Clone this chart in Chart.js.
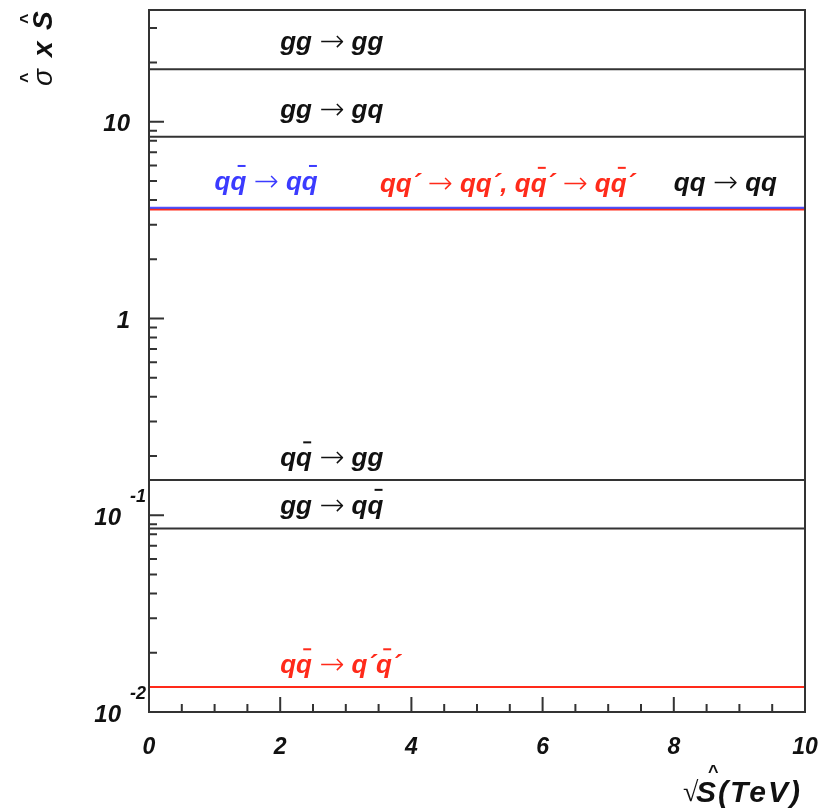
<!DOCTYPE html>
<html>
<head>
<meta charset="utf-8">
<script src="https://cdn.jsdelivr.net/npm/chart.js@4.4.0/dist/chart.umd.min.js"></script>
<style>
    html, body { margin: 0; padding: 0; background: #fff; }
    #wrap { width: 819px; height: 811px; position: relative; }
</style>
</head>
<body>
<div id="wrap"><canvas id="sigmaChart"></canvas></div>
<script>
// Data
const sqrtS = [0, 10];   // TeV, range of each curve
const processNames = [
    'gg → gg',
    'gg → gq',
    'qq̄ → qq̄',
    'qq´ → qq´, qq̄´ → qq̄´',
    'qq → qq',
    'qq̄ → gg',
    'gg → qq̄',
    'qq̄ → q´q̄´'
];
const processValues = [18.5, 8.4, 3.66, 3.58, 3.62, 0.151, 0.0856, 0.0134];
const yMajorTicks = [0.01, 0.1, 1, 10];
const xMajorTicks = [0, 2, 4, 6, 8, 10];

// Styles
const lineColors = ['#333', '#333', '#5050ff', '#ff2a1a', '#333', '#333', '#333', '#ff2a1a'];
const textColors = ['#111', '#111', '#3b3bff', '#ff2a1a', '#111', '#111', '#111', '#ff2a1a'];
const drawOrder = [1, 1, 1, 2, 3, 1, 1, 1];
// label start (x in TeV) and baseline offset above its line (px)
const labelAt = [
    { x: 2.0, dy: 19 },
    { x: 2.0, dy: 19 },
    { x: 1.0, dy: 18 },
    { x: 3.52, dy: 18 },
    { x: 8.0, dy: 18 },
    { x: 2.0, dy: 14 },
    { x: 2.0, dy: 15 },
    { x: 2.0, dy: 14 }
];

const FONT = '"Liberation Sans", Arial, sans-serif';
const AXIS = '#333';

// Draws text with overbars (combining macron) and thin arrows
function drawRich(ctx, text, x, y, color, size) {
    const boldFont = `italic bold ${size}px ${FONT}`;
    const arrowFont = `200 ${size + 4}px "DejaVu Sans"`;
    ctx.fillStyle = color;
    ctx.textAlign = 'left';
    ctx.textBaseline = 'alphabetic';
    let cx = x;
    let lastX = x, lastW = 0;
    Array.from(text).forEach(ch => {
        if (ch === '\u0304') {
            ctx.fillRect(lastX + lastW * 0.45, y - size * 0.95, lastW * 0.5, 2);
            return;
        }
        ctx.font = ch === '→' ? arrowFont : boldFont;
        const w = ctx.measureText(ch).width;
        ctx.fillText(ch, cx, ch === '→' ? y + 1 : y);
        lastX = cx;
        lastW = w;
        cx += w;
    });
}

const axesPlugin = {
    id: 'axesPlugin',
    afterDatasetsDraw(chart) {
        const { ctx, chartArea: a, scales: { x, y } } = chart;
        ctx.save();

        // frame
        ctx.strokeStyle = AXIS;
        ctx.lineWidth = 2;
        ctx.strokeRect(a.left, a.top, a.right - a.left, a.bottom - a.top);

        // y ticks (log)
        ctx.beginPath();
        for (let e = -2; e <= 1; e++) {
            for (let k = 1; k <= 9; k++) {
                const v = k * Math.pow(10, e);
                if (v < y.min || v > y.max) continue;
                const py = y.getPixelForValue(v);
                ctx.moveTo(a.left, py);
                ctx.lineTo(a.left + (k === 1 ? 15 : 8), py);
            }
        }
        // x ticks
        for (let v = 0; v <= 10.001; v += 0.5) {
            const px = x.getPixelForValue(v);
            const major = Math.abs(v % 2) < 0.001;
            ctx.moveTo(px, a.bottom);
            ctx.lineTo(px, a.bottom - (major ? 15 : 8));
        }
        ctx.stroke();

        // y tick labels
        ctx.fillStyle = '#111';
        ctx.textBaseline = 'alphabetic';
        yMajorTicks.forEach(v => {
            const py = y.getPixelForValue(v);
            const exp = Math.round(Math.log10(v));
            ctx.font = `italic bold 24px ${FONT}`;
            ctx.textAlign = 'right';
            if (exp >= 0) {
                ctx.fillText(String(v), 130, py + 9);
            } else {
                ctx.fillText('10', 121, py + 10);
                ctx.font = `italic bold 18px ${FONT}`;
                ctx.textAlign = 'left';
                ctx.fillText(String(exp), 130, py - 13);
            }
        });

        // x tick labels
        ctx.font = `italic bold 23px ${FONT}`;
        ctx.textAlign = 'center';
        xMajorTicks.forEach(v => {
            ctx.fillText(String(v), x.getPixelForValue(v), 754);
        });

        // x title
        ctx.font = `200 28px "DejaVu Sans"`;
        ctx.textAlign = 'left';
        ctx.fillText('√', 683, 801);
        ctx.font = `italic bold 30px ${FONT}`;
        ctx.letterSpacing = '2px';
        ctx.fillText('S(TeV)', 696, 802);
        ctx.letterSpacing = '0px';
        ctx.font = `bold 18px ${FONT}`;
        ctx.fillText('^', 708, 778);

        // y title (rotated)
        ctx.save();
        ctx.translate(52, 86);
        ctx.rotate(-Math.PI / 2);
        ctx.textAlign = 'left';
        ctx.font = `italic 28px ${FONT}`;
        ctx.fillText('σ', 0, 0);
        ctx.font = `italic bold 28px ${FONT}`;
        ctx.fillText('x', 29, 0);
        ctx.fillText('S', 56, 0);
        ctx.font = `bold 18px ${FONT}`;
        ctx.fillText('^', 3, -19);
        ctx.fillText('^', 62, -19);
        ctx.restore();

        // process labels
        processNames.forEach((name, i) => {
            const px = x.getPixelForValue(labelAt[i].x);
            const py = y.getPixelForValue(processValues[i]) - labelAt[i].dy;
            drawRich(ctx, name, px, py, textColors[i], 26);
        });

        ctx.restore();
    }
};

const ctx = document.getElementById('sigmaChart').getContext('2d');

new Chart(ctx, {
    type: 'line',
    data: {
        datasets: processNames.map((name, i) => ({
            label: name,
            data: sqrtS.map(s => ({ x: s, y: processValues[i] })),
            borderColor: lineColors[i],
            borderWidth: 2,
            pointRadius: 0,
            fill: false,
            order: drawOrder[i]
        }))
    },
    options: {
        responsive: true,
        maintainAspectRatio: false,
        animation: false,
        layout: {
            padding: { left: 149, right: 14, top: 10, bottom: 99 }
        },
        scales: {
            x: { type: 'linear', min: 0, max: 10, display: false },
            y: { type: 'logarithmic', min: 0.01, max: 37, display: false }
        },
        plugins: {
            legend: { display: false },
            tooltip: { enabled: false }
        }
    },
    plugins: [axesPlugin]
});
</script>
</body>
</html>
